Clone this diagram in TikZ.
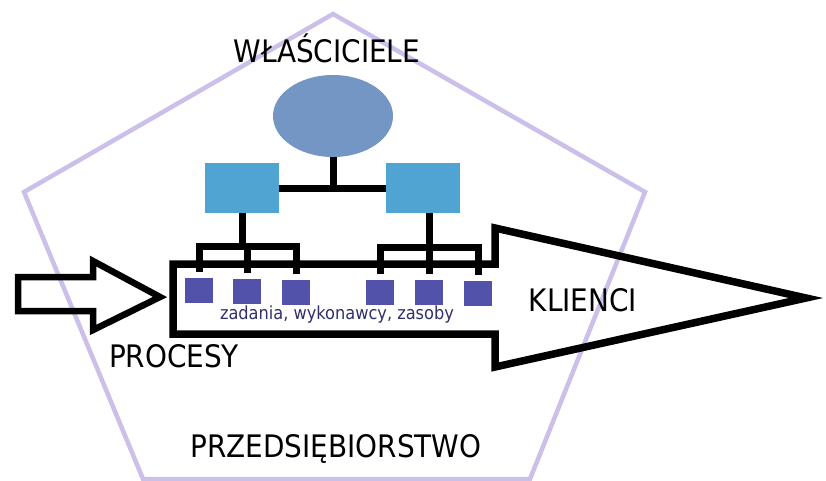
\documentclass[tikz,border=0pt]{standalone}
\usepackage{fontspec}
\setmainfont{DejaVu Sans Condensed}
\usetikzlibrary{shapes.geometric}

\definecolor{penta}{HTML}{CCC0EA}
\definecolor{ownerblue}{HTML}{7496C5}
\definecolor{unitblue}{HTML}{50A4D2}
\definecolor{taskblue}{HTML}{5252AA}
\definecolor{navytext}{HTML}{30306A}

\tikzset{
  owner/.style={ellipse, fill=ownerblue, minimum width=120pt, minimum height=82pt, inner sep=0pt},
  unit/.style={rectangle, fill=unitblue, minimum width=74pt, minimum height=50pt, inner sep=0pt},
  task/.style={rectangle, fill=taskblue, minimum width=28pt, minimum height=25pt, inner sep=0pt},
  link/.style={line width=7pt, line cap=butt},
  flow/.style={draw=black, line width=7.5pt, line join=miter},
  label/.style={font=\fontsize{31}{31}\selectfont, text=black, inner sep=0pt}
}

\begin{document}
\begin{tikzpicture}[x=1pt, y=-1pt]
  \useasboundingbox[fill=white] (0,0) rectangle (826,481);

  % enterprise boundary
  \draw[penta, line width=4.5pt, line join=miter]
    (333,14) -- (645,192) -- (530,479) -- (143,479) -- (24,192) -- cycle;

  % process arrow (incoming) and main process arrow
  \draw[flow, line width=6.5pt]
    (18,277) -- (93,277) -- (93,261) -- (160,297) -- (93,330) -- (93,311) -- (18,311) -- cycle;
  \draw[flow]
    (173,264) -- (495,264) -- (495,228) -- (806,298) -- (495,367) -- (495,334) -- (173,334) -- cycle;

  % owners and organisational units
  \node[owner] (own) at (333,116) {};
  \node[unit] (uL) at (242,188) {};
  \node[unit] (uR) at (423,188) {};

  % tasks, performers, resources
  \node[task] (t1) at (199,290) {};
  \node[task] (t2) at (247,291) {};
  \node[task] (t3) at (296,292) {};
  \node[task] (t4) at (380,292) {};
  \node[task] (t5) at (429,292) {};
  \node[task] (t6) at (478,293) {};

  % hierarchy links
  \draw[link] (uL.east) -- (uR.west);
  \draw[link] (own.south) -- (own.south |- uL.east);
  \draw[link] (uL.south) -- ++(0,33) coordinate (jL);
  \draw[link] (uR.south -| t5) -- ++(0,34) coordinate (jR);
  \draw[link] ([yshift=5pt]t1.north) -- (t1 |- jL) -- (t3 |- jL) -- ([yshift=5pt]t3.north);
  \draw[link] (jL -| t2) -- ([yshift=5pt]t2.north);
  \draw[link] ([yshift=5pt]t4.north) -- (t4 |- jR) -- (t6 |- jR) -- ([yshift=5pt]t6.north);
  \draw[link] (jR) -- ([yshift=5pt]t5.north);

  % labels
  \node[label] (lOwn) at (327,48) {WŁAŚCICIELE};
  \node[label] (lCli) at (583,300) {KLIENCI};
  \node[label] (lPro) at (174,356) {PROCESY};
  \node[label] (lEnt) at (336,449) {PRZEDSIĘBIORSTWO};
  \node[font=\fontsize{18}{18}\selectfont, text=navytext, inner sep=0pt] (lTask) at (337,315) {zadania, wykonawcy, zasoby};
\end{tikzpicture}
\end{document}
